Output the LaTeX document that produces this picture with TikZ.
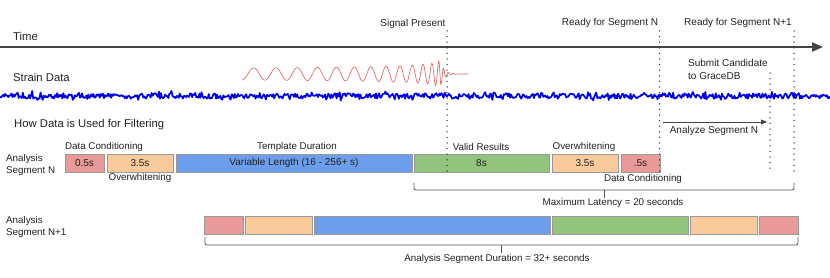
\documentclass[tikz,border=0pt]{standalone}
\usepackage{fontspec}
\setmainfont{Liberation Sans}
\usetikzlibrary{arrows.meta}
\definecolor{txt}{HTML}{222222}
\definecolor{boxline}{HTML}{999999}
\definecolor{cred}{HTML}{EA9999}
\definecolor{corange}{HTML}{F9CB9C}
\definecolor{cblue}{HTML}{6D9EEB}
\definecolor{cgreen}{HTML}{93C47D}
\definecolor{axisc}{HTML}{444444}
\definecolor{dotc}{HTML}{333333}
\definecolor{bracec}{HTML}{555555}
\definecolor{noisec}{HTML}{0000EE}
\definecolor{chirpc}{HTML}{E05A5A}
\begin{document}
\begin{tikzpicture}[x=1pt,y=-1pt,
  lbl/.style={text=txt, inner sep=0pt, font=\fontsize{10}{12}\selectfont},
  small/.style={text=txt, inner sep=0pt, font=\fontsize{9.8}{12}\selectfont},
  big/.style={text=txt, inner sep=0pt, anchor=west, font=\fontsize{11.3}{13}\selectfont},
  seg/.style={draw=boxline, line width=0.7pt, minimum height=18pt, inner sep=0pt, text=txt, font=\fontsize{10}{12}\selectfont},
  dotline/.style={draw=dotc, line width=1.5pt, dash pattern=on 0pt off 5.6pt, line cap=round},
  bracket/.style={draw=bracec, line width=0.8pt, rounded corners=2pt},
]
\useasboundingbox (0,0) rectangle (830,278);

% time axis
\node[big] (time) at (13,36) {Time};
\coordinate (axL) at (0,47);
\coordinate (axR) at (823,47);
\draw[axisc, line width=2pt, -{Triangle[length=11pt,width=9pt]}] (axL) -- (axR);

% top labels
\node[lbl] (sig) at (413,24) {Signal Present};
\node[lbl] (rdyN) at (610,23) {Ready for Segment N};
\node[lbl] (rdyN1) at (738,23) {Ready for Segment N+1};
\node[lbl, anchor=west, align=left, font=\fontsize{10}{13}\selectfont] (sub) at (688,69.5) {Submit Candidate\\to GraceDB};

% strain data
\node[big] (strain) at (13,77) {Strain Data};
\pgfmathsetseed{7}
\draw[noisec, line width=1.7pt, line join=round] plot[domain=0:830, samples=800] (\x,{96+2.8*rand+4*rand*rand*rand});
% chirp
\draw[chirpc, line width=0.6pt] plot[domain=242:440, samples=600] (\x,{74-6*pow(201/(443-\x),0.2)*sin(360*0.5*pow(443-\x,0.625))});
\draw[chirpc, line width=0.6pt] plot[domain=440:468, samples=120] (\x,{74-14*exp(-(\x-440)/4)*sin(357.7-74.5*(\x-440))});

\node[big] (how) at (14,125) {How Data is Used for Filtering};

% segment N
\node[small, anchor=west, align=left, font=\fontsize{9.8}{12}\selectfont] (segN) at (6,165) {Analysis\\Segment N};
\node[seg, fill=cred, minimum width=39pt] (n1) at (84.5,163) {0.5s};
\node[seg, fill=corange, minimum width=66pt] (n2) at (140,163) {3.5s};
\node[seg, fill=cblue, minimum width=236pt] (n3) at (294,163) {Variable Length (16 - 256+ s)};
\node[seg, fill=cgreen, minimum width=135pt] (n4) at (481.5,163) {8s};
\node[seg, fill=corange, minimum width=66pt] (n5) at (585,163) {3.5s};
\node[seg, fill=cred, minimum width=39pt] (n6) at (640.5,163) {.5s};

\node[small] (dc1) at (104,147) {Data Conditioning};
\node[small] (td) at (297,147) {Template Duration};
\node[small] (ow1) at (140,178) {Overwhitening};
\node[small] (vr) at (481,147) {Valid Results};
\node[small] (ow2) at (584,147) {Overwhitening};
\node[small] (dc2) at (643,179) {Data Conditioning};

% dotted verticals
\coordinate (d1t) at (447,31); \coordinate (d1b) at (447,171);
\coordinate (d2t) at (659.5,31); \coordinate (d2b) at (659.5,171);
\coordinate (d3t) at (770,73); \coordinate (d3b) at (770,171);
\coordinate (d4t) at (794,31); \coordinate (d4b) at (794,171);
\draw[dotline] (d1t) -- (d1b);
\draw[dotline] (d2t) -- (d2b);
\draw[dotline] (d3t) -- (d3b);
\draw[dotline] (d4t) -- (d4b);

% analyze arrow
\coordinate (anL) at (663,122);
\coordinate (anR) at (767,122);
\draw[axisc, line width=0.9pt, -{Triangle[length=6pt,width=5pt]}] (anL) -- (anR);
\node[lbl] (an) at (714,131) {Analyze Segment N};

% latency bracket
\coordinate (bNl) at (414,183);
\coordinate (bNm) at (604,190);
\coordinate (bNt) at (604,198);
\coordinate (bNr) at (794,183);
\draw[bracket] (bNl) |- (bNm) -| (bNr);
\draw[bracec, line width=0.8pt] (bNm) -- (bNt);
\node[small] (lat) at (613,203) {Maximum Latency = 20 seconds};

% segment N+1
\node[small, anchor=west, align=left, font=\fontsize{9.8}{12}\selectfont] (segN1) at (6,226.5) {Analysis\\Segment N+1};
\node[seg, fill=cred, minimum width=39pt] (m1) at (223.5,225) {};
\node[seg, fill=corange, minimum width=67pt] (m2) at (278.5,225) {};
\node[seg, fill=cblue, minimum width=236pt] (m3) at (432,225) {};
\node[seg, fill=cgreen, minimum width=136pt] (m4) at (620,225) {};
\node[seg, fill=corange, minimum width=67pt] (m5) at (723.5,225) {};
\node[seg, fill=cred, minimum width=39pt] (m6) at (778.5,225) {};

\coordinate (bMl) at (205,237);
\coordinate (bMm) at (501,245);
\coordinate (bMt) at (501,253);
\coordinate (bMr) at (798,237);
\draw[bracket] (bMl) |- (bMm) -| (bMr);
\draw[bracec, line width=0.8pt] (bMm) -- (bMt);
\node[small] (dur) at (497,259) {Analysis Segment Duration = 32+ seconds};
\end{tikzpicture}
\end{document}
